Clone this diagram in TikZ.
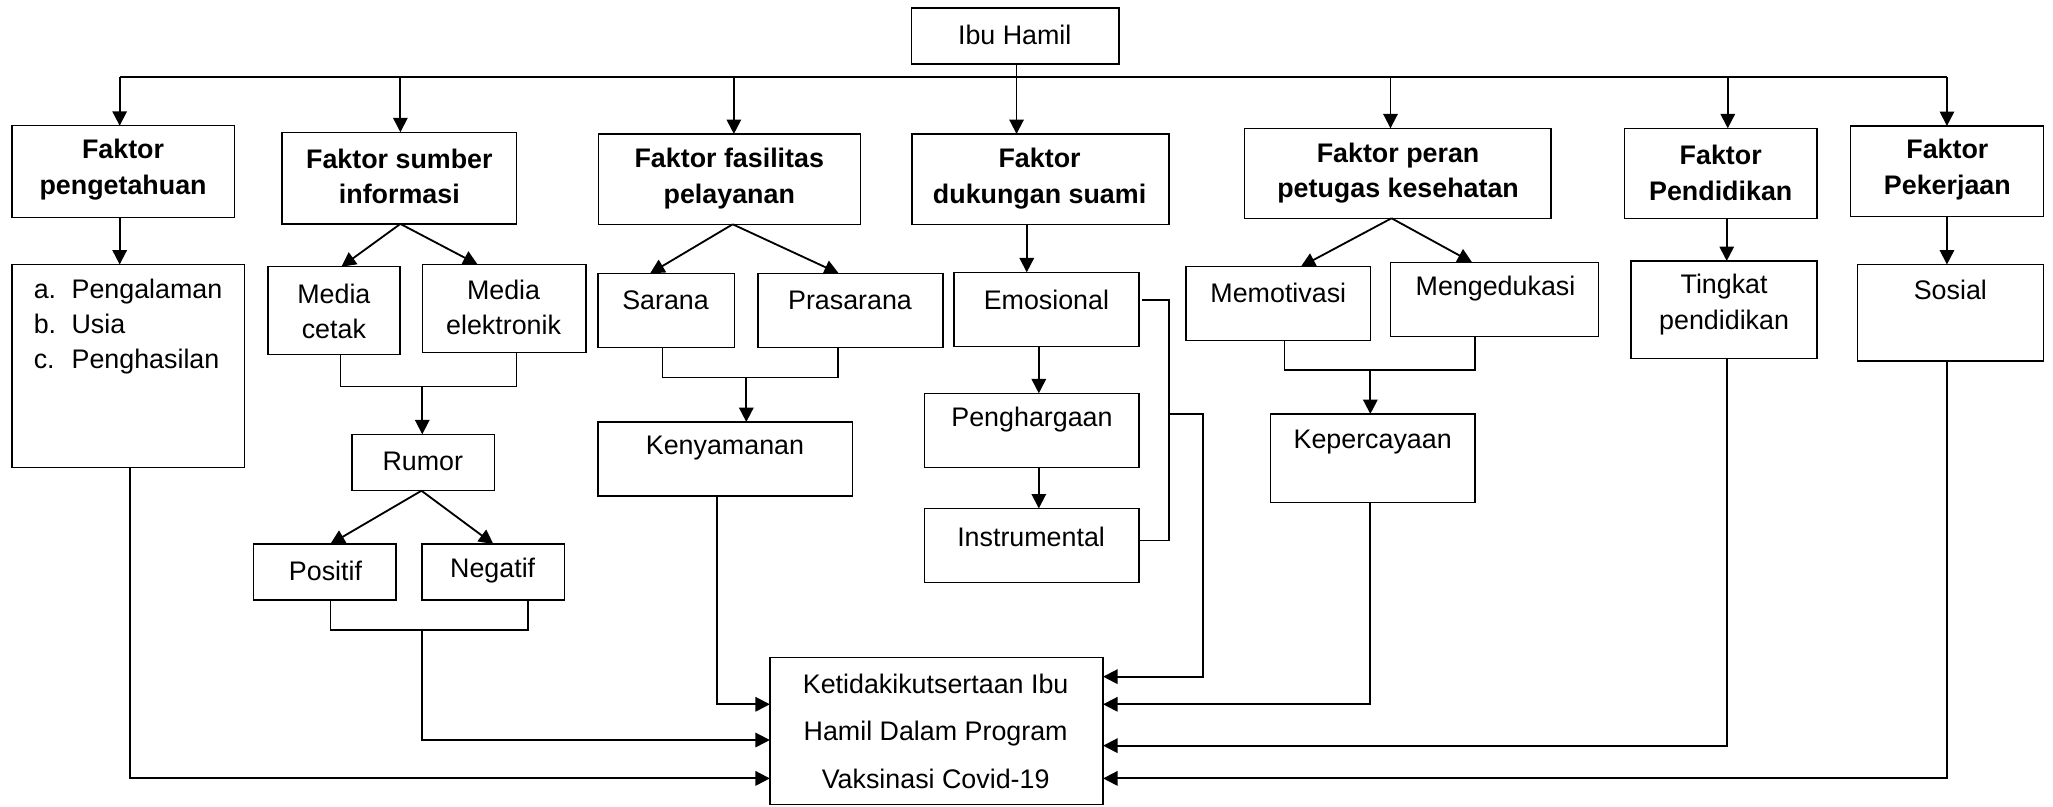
\documentclass[tikz,border=0pt]{standalone}
\usepackage{fontspec}
\setmainfont{Liberation Sans}
\usetikzlibrary{arrows.meta,calc}
\newcommand\bx[5]{\node[box, minimum width={(#4-#2)*1pt}, minimum height={(#5-#3)*1pt}] (#1) at ({(#2+#4)/2},{(#3+#5)/2}) {};}
\begin{document}
\begin{tikzpicture}[x=1pt,y=-1pt,
  box/.style={draw, line width=1.1pt, inner sep=0pt, outer sep=0pt},
  txt/.style={inner sep=0pt, font=\fontsize{20.5}{27}\selectfont, align=center},
  lst/.style={inner sep=0pt, font=\fontsize{20.5}{27}\selectfont, text height=15pt, text depth=4.5pt, anchor=west},
  btxt/.style={inner sep=0pt, font=\fontsize{20.5}{27}\selectfont\bfseries, align=center},
  ln/.style={line width=1.1pt},
  arr/.style={line width=1.4pt, -{Triangle[length=11pt,width=11pt]}},
]
\useasboundingbox (0,0) rectangle (1568,616);
% boxes
\bx{ibu}{696}{6}{854.5}{49}
\bx{fpeng}{9}{96}{179}{166}
\bx{fsumber}{215.5}{101}{394.5}{171}
\bx{ffas}{457}{102.3}{657.4}{171.3}
\bx{fduk}{696.6}{102.3}{892.7}{171.3}
\bx{fperan}{950.6}{98}{1184.6}{166.7}
\bx{fpend}{1240.7}{98}{1387.8}{166.7}
\bx{fpek}{1413.5}{96.2}{1560.6}{165.5}
\bx{list}{9.2}{202}{186.8}{357}
\bx{mcetak}{204.6}{203.7}{305.5}{270.6}
\bx{melek}{322.6}{202}{447.6}{269.1}
\bx{sarana}{456.8}{208.8}{561}{265.5}
\bx{prasarana}{579}{208.8}{720.2}{265.5}
\bx{emosional}{728.7}{208}{869.8}{264.8}
\bx{memot}{905.8}{203.7}{1046.6}{260.2}
\bx{menged}{1062}{200.4}{1221}{257.2}
\bx{tingkat}{1245.6}{199.3}{1387.8}{273.7}
\bx{sosial}{1418.5}{202}{1560.6}{275.7}
\bx{rumor}{268.7}{331.7}{377.8}{374.8}
\bx{kenyamanan}{456.8}{322.3}{651.3}{378.8}
\bx{pengharg}{706.2}{300.4}{869.8}{357.2}
\bx{kepercayaan}{970.5}{316.2}{1126.4}{383.9}
\bx{instrumental}{706.2}{388.3}{869.8}{445}
\bx{positif}{193.7}{415.5}{302.4}{458.3}
\bx{negatif}{322.2}{415.5}{431.3}{458.3}
\bx{ketidak}{588}{502.3}{842.5}{614.5}
% texts
\node[txt] (t-ibu) at (775,27) {Ibu Hamil};
\node[btxt] (t-fpeng) at (94,129.5) {Faktor\\pengetahuan};
\node[btxt] (t-fsumber) at (305,134.5) {Faktor sumber\\informasi};
\node[btxt] (t-ffas) at (557,136.5) {Faktor fasilitas\\pelayanan};
\node[btxt] (t-fduk) at (794,136.5) {Faktor\\dukungan suami};
\node[btxt] (t-fperan) at (1067.8,132) {Faktor peran\\petugas kesehatan};
\node[btxt] (t-fpend) at (1314.2,132) {Faktor\\Pendidikan};
\node[btxt] (t-fpek) at (1487.3,129.5) {Faktor\\Pekerjaan};
\node[lst] (t-la) at (25.6,222.8) {a.};
\node[lst] (t-lb) at (25.6,249.5) {b.};
\node[lst] (t-lc) at (25.6,276.2) {c.};
\node[lst] (t-l1) at (54.5,222.8) {Pengalaman};
\node[lst] (t-l2) at (54.5,249.5) {Usia};
\node[lst] (t-l3) at (54.5,276.2) {Penghasilan};
\node[txt] (t-mcetak) at (255,237.7) {Media\\cetak};
\node[txt] (t-melek) at (384.6,235) {Media\\elektronik};
\node[txt] (t-sarana) at (508.3,229.1) {Sarana};
\node[txt] (t-prasarana) at (649.2,229.1) {Prasarana};
\node[txt] (t-emosional) at (799.2,229) {Emosional};
\node[txt] (t-memot) at (976.3,224) {Memotivasi};
\node[txt] (t-menged) at (1142.2,220.2) {Mengedukasi};
\node[txt] (t-tingkat) at (1316.8,232.7) {Tingkat\\pendidikan};
\node[txt] (t-sosial) at (1489.6,221.5) {Sosial};
\node[txt] (t-rumor) at (322.9,352.6) {Rumor};
\node[txt] (t-kenyamanan) at (553.7,342.4) {Kenyamanan};
\node[txt] (t-pengharg) at (788.2,320.8) {Penghargaan};
\node[txt] (t-kepercayaan) at (1048.4,337.3) {Kepercayaan};
\node[txt] (t-instrumental) at (787.5,409.9) {Instrumental};
\node[txt] (t-positif) at (248.6,435.9) {Positif};
\node[txt] (t-negatif) at (376.3,435.9) {Negatif};
\node[txt, font=\fontsize{20.5}{36}\selectfont] (t-ketidak) at (714.6,558.6) {Ketidakikutsertaan Ibu\\Hamil Dalam Program\\Vaksinasi Covid-19};
% top distribution
\coordinate (h1) at (91.4,59);
\coordinate (h2) at (305.8,59);
\coordinate (h3) at (560.5,59);
\coordinate (h4) at (776.4,59);
\coordinate (h5) at (1062,59);
\coordinate (h6) at (1319.6,59);
\coordinate (h7) at (1487,59);
\draw[ln, line width=1.6pt] (h1) -- (h7);
\draw[arr] (h4 |- ibu.south) -- (h4 |- fduk.north);
\draw[arr] (h1) -- (h1 |- fpeng.north);
\draw[arr] (h2) -- (h2 |- fsumber.north);
\draw[arr] (h3) -- (h3 |- ffas.north);
\draw[arr] (h5) -- (h5 |- fperan.north);
\draw[arr] (h6) -- (h6 |- fpend.north);
\draw[arr] (h7) -- (h7 |- fpek.north);
% pengetahuan
\draw[arr] (h1 |- fpeng.south) -- (h1 |- list.north);
\coordinate (p1) at (99.6,594.5);
\draw[arr] (p1 |- list.south) -- (p1) -- (p1 -| ketidak.west);
% sumber informasi
\coordinate (s0) at (305.8,171);
\draw[arr] (s0) -- (260.8,203.7);
\draw[arr] (s0) -- (364.8,202);
\coordinate (s1) at (260.2,295.3);
\coordinate (s2) at (394.5,295.3);
\coordinate (s3) at (322.5,295.3);
\draw[ln] (s1 |- mcetak.south) -- (s1) -- (s2) -- (s2 |- melek.south);
\draw[arr] (s3) -- (s3 |- rumor.north);
\coordinate (r0) at (321.9,374.8);
\draw[arr] (r0) -- (252.3,415.5);
\draw[arr] (r0) -- (376.8,415.5);
\coordinate (r1) at (252.3,481.2);
\coordinate (r2) at (403.4,481.2);
\coordinate (r3) at (322.5,481.2);
\coordinate (r4) at (322.5,565.2);
\draw[ln] (r1 |- positif.south) -- (r1) -- (r2) -- (r2 |- negatif.south);
\draw[arr] (r3) -- (r4) -- (r4 -| ketidak.west);
% fasilitas
\coordinate (f0) at (559.6,171.3);
\draw[arr] (f0) -- (496.5,208.8);
\draw[arr] (f0) -- (640.6,208.8);
\coordinate (f1) at (506,288.5);
\coordinate (f2) at (640,288.5);
\coordinate (f3) at (570,288.5);
\draw[ln] (f1 |- sarana.south) -- (f1) -- (f2) -- (f2 |- prasarana.south);
\draw[arr] (f3) -- (f3 |- kenyamanan.north);
\coordinate (k1) at (547.6,537.9);
\draw[arr] (k1 |- kenyamanan.south) -- (k1) -- (k1 -| ketidak.west);
% dukungan suami
\coordinate (d0) at (784.2,171.3);
\draw[arr] (d0) -- (d0 |- emosional.north);
\coordinate (d1) at (793.4,300);
\draw[arr] (d1 |- emosional.south) -- (d1 |- pengharg.north);
\draw[arr] (d1 |- pengharg.south) -- (d1 |- instrumental.north);
\coordinate (e0) at (872.5,229.1);
\coordinate (e1) at (892.7,229.1);
\coordinate (e2) at (892.7,413);
\draw[ln] (e0) -- (e1) -- (e2) -- (e2 -| instrumental.east);
\coordinate (e3) at (892.7,316.2);
\coordinate (e4) at (918.6,316.2);
\coordinate (e5) at (918.6,516.8);
\draw[arr] (e3) -- (e4) -- (e5) -- (e5 -| ketidak.east);
% peran petugas
\coordinate (m0) at (1062.8,166.7);
\draw[arr] (m0) -- (993.5,203.7);
\draw[arr] (m0) -- (1124.3,200.4);
\coordinate (m1) at (981,282.6);
\coordinate (m2) at (1126.4,282.6);
\coordinate (m3) at (1046.6,282.6);
\draw[ln] (m1 |- memot.south) -- (m1) -- (m2) -- (m2 |- menged.south);
\draw[arr] (m3) -- (m3 |- kepercayaan.north);
\coordinate (m4) at (1046.6,537.9);
\draw[arr] (m4 |- kepercayaan.south) -- (m4) -- (m4 -| ketidak.east);
% pendidikan
\coordinate (n0) at (1318.8,569.5);
\draw[arr] (n0 |- fpend.south) -- (n0 |- tingkat.north);
\draw[arr] (n0 |- tingkat.south) -- (n0) -- (n0 -| ketidak.east);
% pekerjaan
\coordinate (w0) at (1487,594.5);
\draw[arr] (w0 |- fpek.south) -- (w0 |- sosial.north);
\draw[arr] (w0 |- sosial.south) -- (w0) -- (w0 -| ketidak.east);
\end{tikzpicture}
\end{document}
